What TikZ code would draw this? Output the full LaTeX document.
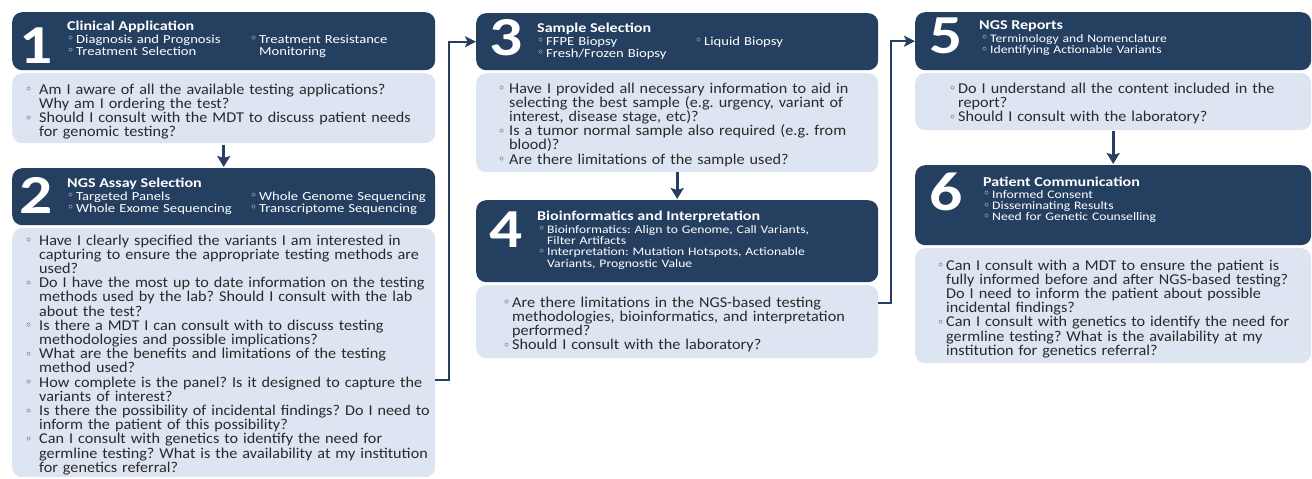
\documentclass[tikz,border=0pt]{standalone}
\usepackage{fontspec}
\setmainfont{Carlito}[FakeStretch=1.19]
\newfontfamily\qfont{Carlito}[FakeStretch=1.08]
\newfontfamily\dejavu{DejaVu Sans}
\usetikzlibrary{arrows.meta}
\definecolor{navy}{HTML}{253F61}
\definecolor{pale}{HTML}{DCE5F1}
\definecolor{ink}{HTML}{2A2A2A}
\newlength\bulw
\setlength\bulw{12pt}
\newcommand\bul{\makebox[\bulw][l]{\raisebox{0.02em}{\dejavu\fontsize{12}{12}\selectfont\symbol{"25E6}}}}
\newcommand\cnt{\hspace*{\bulw}}
\frenchspacing
\hyphenpenalty=10000
\tikzset{
  hbox/.style={fill=navy, rounded corners=10pt, anchor=north west, inner sep=0pt},
  lbox/.style={fill=pale, rounded corners=10pt, anchor=north west, inner sep=0pt},
  num/.style={anchor=base west, inner sep=0pt, text=white, font=\bfseries\fontsize{55}{55}\selectfont},
  ttl/.style={anchor=base west, inner sep=0pt, text=white, font=\bfseries\fontsize{13.5}{13.5}\selectfont},
  itm/.style={anchor=base west, inner sep=0pt, text=white, text width=400pt, align=left, font=\fontsize{12.3}{12.2}\selectfont\frenchspacing},
  itms/.style={itm, font=\fontsize{11.5}{11.4}\selectfont\frenchspacing},
  qtxt/.style={anchor=base west, inner sep=0pt, text=ink, text width=600pt, align=left, font=\qfont\fontsize{15}{14.2}\selectfont\frenchspacing},
  down/.style={draw=navy, line width=2.8pt, -{Stealth[length=11pt,width=13pt,inset=2pt]}},
  elbow/.style={draw=navy, line width=2pt, -{Stealth[length=11pt,width=11pt,inset=2.5pt]}}
}
\begin{document}
\begin{tikzpicture}[x=1pt,y=-1pt]
\useasboundingbox (0,0) rectangle (1312,479);
% boxes
\node[hbox, minimum width=423pt, minimum height=58pt] (H1) at (12,12) {};
\node[lbox, minimum width=423pt, minimum height=70pt] (L1) at (12,73) {};
\node[hbox, minimum width=423pt, minimum height=57pt] (H2) at (12,168) {};
\node[lbox, minimum width=423pt, minimum height=249pt] (L2) at (12,228) {};
\node[hbox, minimum width=402pt, minimum height=57pt] (H3) at (476,13) {};
\node[lbox, minimum width=402pt, minimum height=99pt] (L3) at (476,73) {};
\node[hbox, minimum width=402pt, minimum height=82pt] (H4) at (476,200) {};
\node[lbox, minimum width=402pt, minimum height=73pt] (L4) at (476,285) {};
\node[hbox, minimum width=396pt, minimum height=58pt] (H5) at (915,12) {};
\node[lbox, minimum width=396pt, minimum height=57pt] (L5) at (915,73) {};
\node[hbox, minimum width=396pt, minimum height=80pt] (H6) at (915,165) {};
\node[lbox, minimum width=396pt, minimum height=115pt] (L6) at (915,248) {};
% numerals
\node[num] (n1) at (19,63) {1};
\node[num] (n2) at (19,213) {2};
\node[num] (n3) at (489,55) {3};
\node[num] (n4) at (489,247) {4};
\node[num] (n5) at (929,53) {5};
\node[num] (n6) at (929,210) {6};
% header titles
\node[ttl] (t1) at (67,30) {Clinical Application};
\node[ttl] (t2) at (67,187) {NGS Assay Selection};
\node[ttl] (t3) at (537,32) {Sample Selection};
\node[ttl] (t4) at (537,220) {Bioinformatics and Interpretation};
\node[ttl] (t5) at (979,29) {NGS Reports};
\node[ttl] (t6) at (983,186) {Patient Communication};
% header items
\node[itm] (i1a) at (67,43) {\setlength\bulw{9pt}\bul Diagnosis and Prognosis\\\bul Treatment Selection};
\node[itm] (i1b) at (250,43) {\setlength\bulw{9pt}\bul Treatment Resistance\\\cnt Monitoring};
\node[itm] (i2a) at (67,200) {\setlength\bulw{9pt}\bul Targeted Panels\\\bul Whole Exome Sequencing};
\node[itm] (i2b) at (250,200) {\setlength\bulw{9pt}\bul Whole Genome Sequencing\\\bul Transcriptome Sequencing};
\node[itm] (i3a) at (537,45) {\setlength\bulw{9pt}\bul FFPE Biopsy\\\bul Fresh/Frozen Biopsy};
\node[itm] (i3b) at (695,45) {\setlength\bulw{9pt}\bul Liquid Biopsy};
\node[itms] (i4) at (538,233) {\setlength\bulw{9pt}\bul Bioinformatics: Align to Genome, Call Variants,\\\cnt Filter Artifacts\\\bul Interpretation: Mutation Hotspots, Actionable\\\cnt Variants, Prognostic Value};
\node[itms] (i5) at (981,42) {\setlength\bulw{9pt}\bul Terminology and Nomenclature\\\bul Identifying Actionable Variants};
\node[itms] (i6) at (983,198) {\setlength\bulw{9pt}\bul Informed Consent\\\bul Disseminating Results\\\bul Need for Genetic Counselling};
% question texts
\node[qtxt] (q1) at (25,94) {\setlength\bulw{14pt}\bul Am I aware of all the available testing applications?\\\cnt Why am I ordering the test?\\\bul Should I consult with the MDT to discuss patient needs\\\cnt for genomic testing?};
\node[qtxt] (q2) at (25,245) {\setlength\bulw{14pt}\bul Have I clearly specified the variants I am interested in\\\cnt capturing to ensure the appropriate testing methods are\\\cnt used?\\\bul Do I have the most up to date information on the testing\\\cnt methods used by the lab? Should I consult with the lab\\\cnt about the test?\\\bul Is there a MDT I can consult with to discuss testing\\\cnt methodologies and possible implications?\\\bul What are the benefits and limitations of the testing\\\cnt method used?\\\bul How complete is the panel? Is it designed to capture the\\\cnt variants of interest?\\\bul Is there the possibility of incidental findings? Do I need to\\\cnt inform the patient of this possibility?\\\bul Can I consult with genetics to identify the need for\\\cnt germline testing? What is the availability at my institution\\\cnt for genetics referral?};
\node[qtxt] (q3) at (498,93) {\setlength\bulw{11pt}\bul Have I provided all necessary information to aid in\\\cnt selecting the best sample (e.g. urgency, variant of\\\cnt interest, disease stage, etc)?\\\bul Is a tumor normal sample also required (e.g. from\\\cnt blood)?\\\bul Are there limitations of the sample used?};
\node[qtxt] (q4) at (503,307) {\setlength\bulw{9pt}\bul Are there limitations in the NGS-based testing\\\cnt methodologies, bioinformatics, and interpretation\\\cnt performed?\\\bul Should I consult with the laboratory?};
\node[qtxt] (q5) at (949,93) {\setlength\bulw{9pt}\bul Do I understand all the content included in the\\\cnt report?\\\bul Should I consult with the laboratory?};
\node[qtxt] (q6) at (937,270) {\setlength\bulw{9pt}\bul Can I consult with a MDT to ensure the patient is\\\cnt fully informed before and after NGS-based testing?\\\cnt Do I need to inform the patient about possible\\\cnt incidental findings?\\\bul Can I consult with genetics to identify the need for\\\cnt germline testing? What is the availability at my\\\cnt institution for genetics referral?};
% connectors
\draw[down, shorten <=2pt, shorten >=1pt] (L1.south) -- (H2.north);
\draw[down, shorten >=1pt] (L3.south) -- (H4.north);
\draw[down, shorten <=1pt, shorten >=1pt] (L5.south) -- (H6.north);
\coordinate (c23) at (449,380);
\coordinate (c45) at (891,303);
\draw[elbow] (c23 -| L2.east) -- (c23) |- (H3.west);
\draw[elbow] (c45 -| L4.east) -- (c45) |- (H5.west);
\end{tikzpicture}
\end{document}
